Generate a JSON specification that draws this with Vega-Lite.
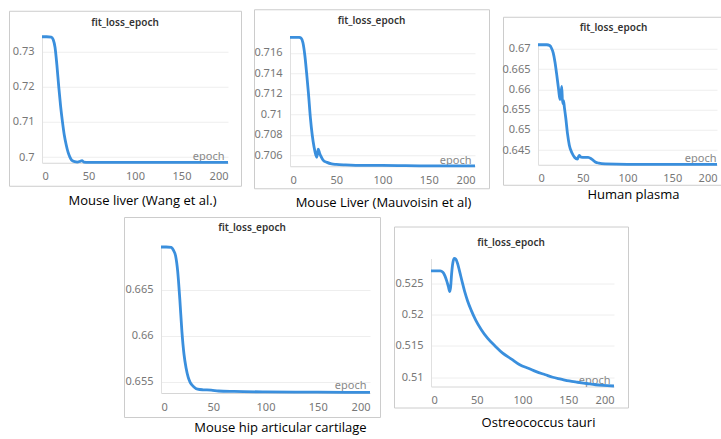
{
  "$schema": "https://vega.github.io/schema/vega-lite/v6.json",
  "padding": {"left": 8, "top": 8, "right": 0, "bottom": 0},
  "autosize": {"type": "pad"},
  "background": "white",
  "config": {
    "font": "Noto Sans",
    "view": {"stroke": "#cccccc", "strokeWidth": 1},
    "title": {"fontSize": 10, "fontWeight": 600, "color": "#333333", "font": "Noto Sans", "baseline": "middle", "anchor": "middle", "frame": "group"},
    "axis": {"labelColor": "#777777", "labelFontSize": 11, "labelFont": "Noto Sans", "ticks": false, "tickSize": 0, "labelPadding": 8, "gridColor": "#eeeeee", "domainColor": "#e0e0e0"},
    "axisX": {"grid": false, "domainColor": "#d6d6d6", "titleFontSize": 13, "titleFontWeight": "normal", "titleColor": "#000000", "titleFont": "Open Sans", "titleBaseline": "middle", "titleAlign": "center"},
    "axisY": {"grid": true, "titleFontSize": 11, "titleFontWeight": "normal", "titleColor": "#888888", "titleFont": "Noto Sans", "titleAngle": 0, "titleAlign": "right", "titleBaseline": "alphabetic"},
    "line": {"color": "#3a8fdd", "strokeWidth": 2.8, "interpolate": "monotone"}
  },
  "datasets": {
    "p1": [
      {"epoch": 0, "loss": 0.7342}, {"epoch": 5, "loss": 0.7342}, {"epoch": 10, "loss": 0.7341}, {"epoch": 12, "loss": 0.7334},
      {"epoch": 14, "loss": 0.7312}, {"epoch": 16, "loss": 0.7262}, {"epoch": 18, "loss": 0.7200}, {"epoch": 20, "loss": 0.7145},
      {"epoch": 22, "loss": 0.7100}, {"epoch": 24, "loss": 0.7062}, {"epoch": 26, "loss": 0.7035}, {"epoch": 28, "loss": 0.7014},
      {"epoch": 30, "loss": 0.7000}, {"epoch": 32, "loss": 0.6991}, {"epoch": 35, "loss": 0.6987}, {"epoch": 38, "loss": 0.6986},
      {"epoch": 41, "loss": 0.6988}, {"epoch": 43, "loss": 0.6990}, {"epoch": 45, "loss": 0.6986}, {"epoch": 50, "loss": 0.6985},
      {"epoch": 60, "loss": 0.6985}, {"epoch": 100, "loss": 0.6985}, {"epoch": 150, "loss": 0.6985}, {"epoch": 200, "loss": 0.6985}
    ],
    "p2": [
      {"epoch": 0, "loss": 0.71753}, {"epoch": 5, "loss": 0.71753}, {"epoch": 10, "loss": 0.71752}, {"epoch": 12, "loss": 0.71745},
      {"epoch": 14, "loss": 0.7170}, {"epoch": 16, "loss": 0.7158}, {"epoch": 18, "loss": 0.7140}, {"epoch": 20, "loss": 0.7120},
      {"epoch": 22, "loss": 0.7097}, {"epoch": 24, "loss": 0.7080}, {"epoch": 26, "loss": 0.7068}, {"epoch": 28, "loss": 0.7060},
      {"epoch": 29, "loss": 0.7058}, {"epoch": 30.5, "loss": 0.7066}, {"epoch": 32, "loss": 0.7062}, {"epoch": 34, "loss": 0.7058},
      {"epoch": 36, "loss": 0.7055}, {"epoch": 40, "loss": 0.7053}, {"epoch": 45, "loss": 0.70515}, {"epoch": 50, "loss": 0.7051},
      {"epoch": 60, "loss": 0.70505}, {"epoch": 80, "loss": 0.7050}, {"epoch": 100, "loss": 0.7050}, {"epoch": 150, "loss": 0.70495},
      {"epoch": 200, "loss": 0.70495}
    ],
    "p3": [
      {"epoch": 0, "loss": 0.6710}, {"epoch": 5, "loss": 0.6710}, {"epoch": 10, "loss": 0.6710}, {"epoch": 13, "loss": 0.6708},
      {"epoch": 15, "loss": 0.6702}, {"epoch": 17, "loss": 0.6690}, {"epoch": 19, "loss": 0.6667}, {"epoch": 21, "loss": 0.6635},
      {"epoch": 23, "loss": 0.6600}, {"epoch": 24.5, "loss": 0.6575}, {"epoch": 25.5, "loss": 0.6580}, {"epoch": 26.5, "loss": 0.6607},
      {"epoch": 27.5, "loss": 0.6565}, {"epoch": 28.5, "loss": 0.6572}, {"epoch": 29.5, "loss": 0.6555}, {"epoch": 31, "loss": 0.6530},
      {"epoch": 33, "loss": 0.6490}, {"epoch": 35, "loss": 0.6462}, {"epoch": 38, "loss": 0.6443}, {"epoch": 41, "loss": 0.6432},
      {"epoch": 44, "loss": 0.6428}, {"epoch": 46, "loss": 0.6437}, {"epoch": 48, "loss": 0.6433}, {"epoch": 52, "loss": 0.6432},
      {"epoch": 56, "loss": 0.6432}, {"epoch": 60, "loss": 0.6428}, {"epoch": 64, "loss": 0.6421}, {"epoch": 68, "loss": 0.6418},
      {"epoch": 75, "loss": 0.6416}, {"epoch": 100, "loss": 0.6415}, {"epoch": 150, "loss": 0.6415}, {"epoch": 200, "loss": 0.6415}
    ],
    "p4": [
      {"epoch": 0, "loss": 0.66968}, {"epoch": 5, "loss": 0.66968}, {"epoch": 10, "loss": 0.66965}, {"epoch": 12, "loss": 0.6693},
      {"epoch": 14, "loss": 0.6687}, {"epoch": 16, "loss": 0.6670}, {"epoch": 18, "loss": 0.6640}, {"epoch": 20, "loss": 0.6605},
      {"epoch": 22, "loss": 0.6580}, {"epoch": 24, "loss": 0.6565}, {"epoch": 26, "loss": 0.6555}, {"epoch": 28, "loss": 0.6549},
      {"epoch": 31, "loss": 0.6545}, {"epoch": 35, "loss": 0.6542}, {"epoch": 40, "loss": 0.65413}, {"epoch": 48, "loss": 0.6541},
      {"epoch": 55, "loss": 0.6540}, {"epoch": 70, "loss": 0.65395}, {"epoch": 100, "loss": 0.6539}, {"epoch": 150, "loss": 0.65387},
      {"epoch": 200, "loss": 0.65385}
    ],
    "p5": [
      {"epoch": 0, "loss": 0.5270}, {"epoch": 5, "loss": 0.5270}, {"epoch": 10, "loss": 0.5270}, {"epoch": 13, "loss": 0.5268},
      {"epoch": 15, "loss": 0.5263}, {"epoch": 17, "loss": 0.5255}, {"epoch": 19, "loss": 0.5245}, {"epoch": 20.5, "loss": 0.5237},
      {"epoch": 21.5, "loss": 0.5245}, {"epoch": 22.5, "loss": 0.5265}, {"epoch": 24, "loss": 0.5284}, {"epoch": 25.5, "loss": 0.5290},
      {"epoch": 27, "loss": 0.5289}, {"epoch": 29, "loss": 0.5282}, {"epoch": 31, "loss": 0.5271}, {"epoch": 34, "loss": 0.5253},
      {"epoch": 37, "loss": 0.5236}, {"epoch": 40, "loss": 0.5222}, {"epoch": 44, "loss": 0.5207}, {"epoch": 49, "loss": 0.5191},
      {"epoch": 55, "loss": 0.5176}, {"epoch": 62, "loss": 0.5162}, {"epoch": 70, "loss": 0.5150}, {"epoch": 78, "loss": 0.5139},
      {"epoch": 88, "loss": 0.5129}, {"epoch": 97, "loss": 0.5120}, {"epoch": 107, "loss": 0.5114}, {"epoch": 115, "loss": 0.5109},
      {"epoch": 125, "loss": 0.5104}, {"epoch": 133, "loss": 0.5100}, {"epoch": 142, "loss": 0.5097}, {"epoch": 151, "loss": 0.5094},
      {"epoch": 160, "loss": 0.5092}, {"epoch": 170, "loss": 0.5090}, {"epoch": 180, "loss": 0.5088}, {"epoch": 188, "loss": 0.5087},
      {"epoch": 200, "loss": 0.5086}
    ]
  },
  "vconcat": [
    {
      "hconcat": [
        {
          "width": 232, "height": 175,
          "title": {"text": "fit_loss_epoch", "offset": -17},
          "data": {"name": "p1"},
          "mark": {"type": "line"},
          "encoding": {
            "x": {"field": "epoch", "type": "quantitative",
              "scale": {"domain": [0, 200], "range": [33, 219], "nice": false, "zero": false},
              "axis": {"values": [0, 50, 100, 150, 200], "offset": -23, "title": "Mouse liver (Wang et al.)", "titleX": 133, "titleY": 38}},
            "y": {"field": "loss", "type": "quantitative",
              "scale": {"domain": [0.6984, 0.7342], "range": [152, 26], "nice": false, "zero": false},
              "axis": {"values": [0.7, 0.71, 0.72, 0.73], "format": ".3~f", "offset": -33, "title": "epoch", "titleX": 182, "titleY": 149}}
          }
        },
        {
          "width": 235, "height": 179,
          "title": {"text": "fit_loss_epoch", "offset": -17},
          "data": {"name": "p2"},
          "mark": {"type": "line"},
          "encoding": {
            "x": {"field": "epoch", "type": "quantitative",
              "scale": {"domain": [0, 200], "range": [36, 221], "nice": false, "zero": false},
              "axis": {"values": [0, 50, 100, 150, 200], "offset": -22, "title": "Mouse Liver (Mauvoisin et al)", "titleX": 129, "titleY": 36}},
            "y": {"field": "loss", "type": "quantitative",
              "scale": {"domain": [0.70492, 0.71754], "range": [157, 28], "nice": false, "zero": false},
              "axis": {"values": [0.706, 0.708, 0.71, 0.712, 0.714, 0.716], "format": ".3~f", "offset": -36, "title": "epoch", "titleX": 181, "titleY": 154}}
          }
        },
        {
          "width": 221, "height": 168,
          "title": {"text": "fit_loss_epoch", "offset": -16},
          "data": {"name": "p3"},
          "mark": {"type": "line"},
          "encoding": {
            "x": {"field": "epoch", "type": "quantitative",
              "scale": {"domain": [0, 200], "range": [35, 214], "nice": false, "zero": false},
              "axis": {"values": [0, 50, 100, 150, 200], "labelFlush": true, "offset": -20, "title": "Human plasma", "titleX": 130, "titleY": 30}},
            "y": {"field": "loss", "type": "quantitative",
              "scale": {"domain": [0.6414, 0.6710], "range": [148, 28], "nice": false, "zero": false},
              "axis": {"values": [0.645, 0.65, 0.655, 0.66, 0.665, 0.67], "format": ".3~f", "offset": -35, "title": "epoch", "titleX": 178, "titleY": 145}}
          }
        }
      ],
      "spacing": 11,
      "center": true
    },
    {
      "hconcat": [
        {
          "width": 101, "height": 10,
          "view": {"stroke": null},
          "data": {"values": []},
          "mark": {"type": "text"},
          "encoding": {}
        },
        {
          "width": 256, "height": 200,
          "title": {"text": "fit_loss_epoch", "offset": -16},
          "data": {"name": "p4"},
          "mark": {"type": "line"},
          "encoding": {
            "x": {"field": "epoch", "type": "quantitative",
              "scale": {"domain": [0, 200], "range": [37, 246], "nice": false, "zero": false},
              "axis": {"values": [0, 50, 100, 150, 200], "offset": -24, "title": "Mouse hip articular cartilage", "titleX": 156, "titleY": 34}},
            "y": {"field": "loss", "type": "quantitative",
              "scale": {"domain": [0.65378, 0.66968], "range": [176, 30], "nice": false, "zero": false},
              "axis": {"values": [0.655, 0.66, 0.665], "format": ".3~f", "offset": -37, "title": "epoch", "titleX": 205, "titleY": 171}}
          }
        },
        {
          "width": 234, "height": 181,
          "title": {"text": "fit_loss_epoch", "offset": -21},
          "data": {"name": "p5"},
          "mark": {"type": "line"},
          "encoding": {
            "x": {"field": "epoch", "type": "quantitative",
              "scale": {"domain": [0, 200], "range": [37, 220], "nice": false, "zero": false},
              "axis": {"values": [0, 50, 100, 150, 200], "offset": -21, "title": "Ostreococcus tauri", "titleX": 144, "titleY": 36}},
            "y": {"field": "loss", "type": "quantitative",
              "scale": {"domain": [0.50852, 0.52899], "range": [160, 32], "nice": false, "zero": false},
              "axis": {"values": [0.51, 0.515, 0.52, 0.525], "format": ".3~f", "offset": -37, "title": "epoch", "titleX": 179, "titleY": 157}}
          }
        }
      ],
      "spacing": 14,
      "center": true,
      "bounds": "flush"
    }
  ],
  "spacing": 6
}
